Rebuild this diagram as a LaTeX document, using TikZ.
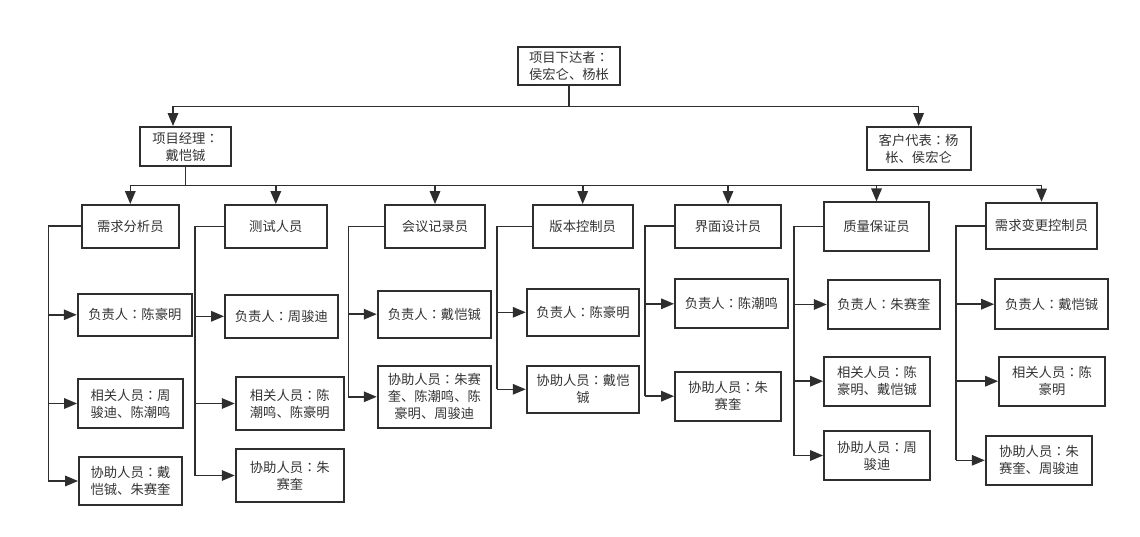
\documentclass[tikz,border=0pt]{standalone}
\usepackage{fontspec}
\setmainfont{Noto Sans CJK SC}
\newfontfamily\colonfont{Noto Sans CJK SC}[Script=CJK, Language=Chinese Traditional]
\newcommand{\zhcolon}{{\colonfont ：}}
\usetikzlibrary{arrows.meta}
\usepackage{xcolor}
\definecolor{inkline}{HTML}{2E2E2E}
\definecolor{inktext}{HTML}{333333}

\begin{document}
\begin{tikzpicture}[
    x=1pt, y=-1pt,
    box/.style={draw=inkline, line width=1.8pt, inner sep=0pt, align=center,
        font=\fontsize{13.3}{17}\selectfont, text=inktext},
    wh/.style 2 args={minimum width=#1pt, minimum height=#2pt},
    wire/.style={draw=inkline, line width=1.6pt},
    link/.style={wire, -{Triangle[length=13pt,width=10.5pt]}}]
    \useasboundingbox (0,0) rectangle (1140,537);

    % top levels
    \node[box, wh={102}{38}] (top) at (569,66) {项目下达者\zhcolon\\侯宏仑、杨枨};
    \node[box, wh={91}{39}] (pm) at (185.5,146.5) {项目经理\zhcolon\\戴恺铖};
    \node[box, wh={104}{43}] (cust) at (918.6,148.5) {客户代表\zhcolon 杨\\枨、侯宏仑};

    % roles
    \node[box, wh={97.3}{42.7}] (r1) at (130.3,226.3) {需求分析员};
    \node[box, wh={101.7}{43}] (r2) at (275.8,226.5) {测试人员};
    \node[box, wh={100}{43}] (r3) at (435,226.5) {会议记录员};
    \node[box, wh={100}{43}] (r4) at (582.7,226.5) {版本控制员};
    \node[box, wh={106}{42.7}] (r5) at (728,226.3) {界面设计员};
    \node[box, wh={105}{48.7}] (r6) at (876.5,226.7) {质量保证员};
    \node[box, wh={111.6}{46.3}] (r7) at (1041.5,225.8) {需求变更控制员};

    % people
    \node[box, wh={114.3}{41.7}] (r1a) at (134.8,314.8) {负责人\zhcolon 陈豪明};
    \node[box, wh={105}{49}] (r1b) at (130.5,403.5) {相关人员\zhcolon 周\\骏迪、陈潮鸣};
    \node[box, wh={103}{48}] (r1c) at (130.5,481) {协助人员\zhcolon 戴\\恺铖、朱赛奎};

    \node[box, wh={112.7}{42.7}] (r2a) at (281.3,316.3) {负责人\zhcolon 周骏迪};
    \node[box, wh={108.3}{53}] (r2b) at (289.8,403.5) {相关人员\zhcolon 陈\\潮鸣、陈豪明};
    \node[box, wh={108.3}{53}] (r2c) at (289.8,475.5) {协助人员\zhcolon 朱\\赛奎};

    \node[box, wh={113.3}{47}] (r3a) at (434.3,314.2) {负责人\zhcolon 戴恺铖};
    \node[box, wh={113.3}{61.7}] (r3b) at (434.3,396.8) {协助人员\zhcolon 朱赛\\奎、陈潮鸣、陈\\豪明、周骏迪};

    \node[box, wh={112.7}{46.7}] (r4a) at (583,312.3) {负责人\zhcolon 陈豪明};
    \node[box, wh={112.7}{46.7}] (r4b) at (583,389.3) {协助人员\zhcolon 戴恺\\铖};

    \node[box, wh={112.7}{49}] (r5a) at (731.3,303.8) {负责人\zhcolon 陈潮鸣};
    \node[box, wh={106}{49}] (r5b) at (728,396.2) {协助人员\zhcolon 朱\\赛奎};

    \node[box, wh={112.3}{49}] (r6a) at (883.8,304.5) {负责人\zhcolon 朱赛奎};
    \node[box, wh={106}{49}] (r6b) at (877,381.2) {相关人员\zhcolon 陈\\豪明、戴恺铖};
    \node[box, wh={106}{49}] (r6c) at (877,455.5) {协助人员\zhcolon 周\\骏迪};

    \node[box, wh={113.3}{49.7}] (r7a) at (1051.7,304.2) {负责人\zhcolon 戴恺铖};
    \node[box, wh={106}{49}] (r7b) at (1052,381.2) {相关人员\zhcolon 陈\\豪明};
    \node[box, wh={106.6}{49.3}] (r7c) at (1039,460.3) {协助人员\zhcolon 朱\\赛奎、周骏迪};

    % bus lines on the left of each group
    \coordinate (k1) at (48.3,0);
    \coordinate (k2) at (195,0);
    \coordinate (k3) at (348.3,0);
    \coordinate (k4) at (496.7,0);
    \coordinate (k5) at (645,0);
    \coordinate (k6) at (794,0);
    \coordinate (k7) at (955.7,0);

    \draw[wire] (top.south) -- ++(0,20.5) coordinate (jt);
    \draw[link] (jt) -| ([xshift=-12.5pt]pm.north);
    \draw[link] (jt) -| (cust.north);

    \draw[wire] (pm.south) -- ++(0,18.5) coordinate (jp);
    \foreach \r in {r1,r2,r3,r4,r5,r6,r7}
        \draw[link] (jp) -| (\r.north);

    \foreach \n/\last in {1/c, 2/c, 3/b, 4/b, 5/b, 6/c, 7/c}
        \draw[wire] (r\n.west) -| (k\n |- r\n\last.west);

    \foreach \c in {r1a,r1b,r1c}
        \draw[link] (k1 |- \c.west) -- (\c.west);
    \foreach \c in {r2a,r2b,r2c}
        \draw[link] (k2 |- \c.west) -- (\c.west);
    \foreach \c in {r3a,r3b}
        \draw[link] (k3 |- \c.west) -- (\c.west);
    \foreach \c in {r4a,r4b}
        \draw[link] (k4 |- \c.west) -- (\c.west);
    \foreach \c in {r5a,r5b}
        \draw[link] (k5 |- \c.west) -- (\c.west);
    \foreach \c in {r6a,r6b,r6c}
        \draw[link] (k6 |- \c.west) -- (\c.west);
    \foreach \c in {r7a,r7b,r7c}
        \draw[link] (k7 |- \c.west) -- (\c.west);
\end{tikzpicture}
\end{document}
